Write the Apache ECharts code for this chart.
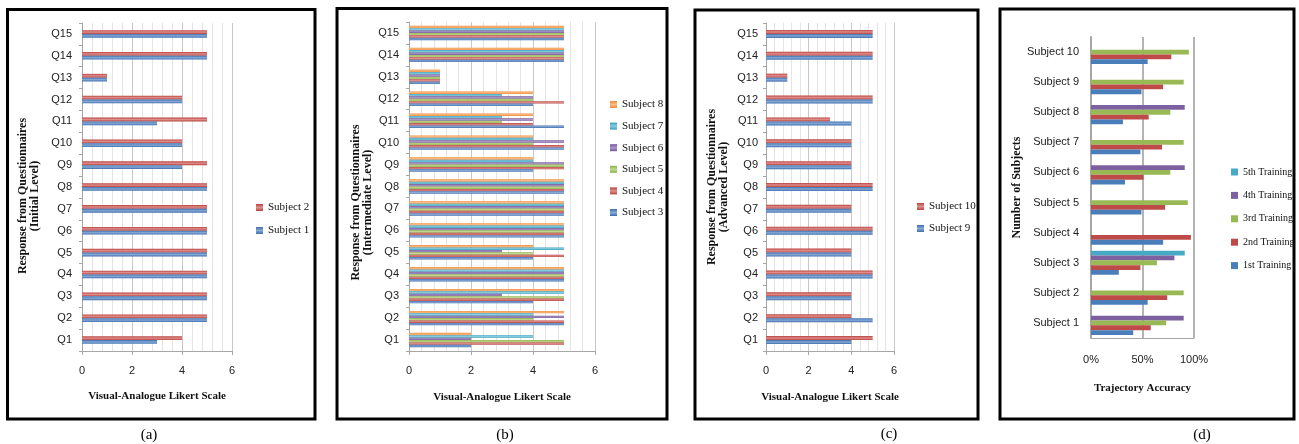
<!DOCTYPE html>
<html lang="en">
<head>
<meta charset="utf-8">
<title>Questionnaire responses and trajectory accuracy</title>
<script src="https://cdn.jsdelivr.net/npm/echarts@6/dist/echarts.min.js"></script>
<style>
  html, body { margin: 0; padding: 0; background: #fff; }
  #main { width: 1299px; height: 444px; }
</style>
</head>
<body>
<div id="main"></div>
<script type="text/javascript">
// categories
var questions = ['Q1', 'Q2', 'Q3', 'Q4', 'Q5', 'Q6', 'Q7', 'Q8', 'Q9', 'Q10', 'Q11', 'Q12', 'Q13', 'Q14', 'Q15'];
var subjects = ['Subject 1', 'Subject 2', 'Subject 3', 'Subject 4', 'Subject 5',
                'Subject 6', 'Subject 7', 'Subject 8', 'Subject 9', 'Subject 10'];

// (a) initial level, Q1..Q15
var subject1 = [3, 5, 5, 5, 5, 5, 5, 5, 4, 4, 3, 4, 1, 5, 5];
var subject2 = [4, 5, 5, 5, 5, 5, 5, 5, 5, 4, 5, 4, 1, 5, 5];

// (b) intermediate level
var subject3 = [2, 5, 4, 5, 4, 5, 5, 5, 4, 5, 5, 4, 1, 5, 5];
var subject4 = [5, 5, 5, 5, 5, 5, 5, 5, 5, 5, 4, 5, 1, 5, 5];
var subject5 = [5, 4, 5, 5, 4, 5, 5, 5, 5, 4, 3, 4, 1, 5, 5];
var subject6 = [2, 5, 3, 5, 3, 5, 5, 5, 5, 5, 4, 4, 1, 5, 5];
var subject7 = [4, 4, 5, 5, 5, 5, 5, 5, 4, 4, 3, 3, 1, 5, 5];
var subject8 = [2, 5, 5, 5, 4, 5, 5, 5, 4, 4, 4, 4, 1, 5, 5];

// (c) advanced level
var subject9  = [4, 5, 4, 5, 4, 5, 4, 5, 4, 4, 4, 5, 1, 5, 5];
var subject10 = [5, 4, 4, 5, 4, 5, 4, 5, 4, 4, 3, 5, 1, 5, 5];

// (d) trajectory accuracy (%), Subject 1..10
var training1 = [41, 55, 27, 70, 49, 33, 48, 31, 49, 55];
var training2 = [58, 74, 48, 97, 72, 51, 69, 56, 70, 78];
var training3 = [73, 90, 64, null, 94, 77, 90, 77, 90, 95];
var training4 = [90, null, 81, null, null, 91, null, 91, null, null];
var training5 = [null, null, 91, null, null, null, null, null, null, null];

var SERIF = '"Liberation Serif", "Times New Roman", serif';
var SANS = '"Liberation Sans Narrow", "Liberation Sans", Arial, sans-serif';

// [edge, highlight, flat]
var colors = {
    blue:   ['#3F6FAE', '#86A9D6', '#4A7EBB'],
    red:    ['#B8433F', '#E08E8B', '#BE4B48'],
    green:  ['#8DAF4A', '#C0D891', '#98B954'],
    purple: ['#72559A', '#AB97C7', '#7D60A0'],
    cyan:   ['#3A9FBC', '#8ACEE0', '#46AAC5'],
    orange: ['#F08A35', '#F9BC88', '#F79646']
};

function shaded(c) {
    return new echarts.graphic.LinearGradient(0, 0, 0, 1, [
        { offset: 0, color: c[0] },
        { offset: 0.5, color: c[1] },
        { offset: 1, color: c[0] }
    ]);
}

function bar(name, data, c, idx, w, flat) {
    return {
        name: name,
        type: 'bar',
        xAxisIndex: idx,
        yAxisIndex: idx,
        data: data,
        barWidth: w,
        barGap: '0%',
        itemStyle: { color: flat ? c[2] : shaded(c) }
    };
}

function likertAxis(idx, gap) {
    return {
        type: 'value', gridIndex: idx, min: 0, max: 6, interval: 2,
        axisLine: { show: true, lineStyle: { color: '#a6a6a6' } },
        axisTick: { show: true, length: 4, lineStyle: { color: '#a6a6a6' } },
        axisLabel: { margin: 14, fontFamily: SANS, fontSize: 11, color: '#222' },
        splitLine: { show: true, lineStyle: { color: '#c8c8c8' } },
        minorTick: { show: false, splitNumber: 5 },
        minorSplitLine: { show: true, lineStyle: { color: '#e4e4e4' } },
        name: 'Visual-Analogue Likert Scale', nameLocation: 'middle', nameGap: gap,
        nameTextStyle: { fontFamily: SERIF, fontWeight: 'bold', fontSize: 11, color: '#111' }
    };
}

// shift moves the rotated title down the page (padding on the text's right side)
function questionAxis(idx, title, gap, margin, shift) {
    return {
        type: 'category', gridIndex: idx, data: questions,
        axisLine: { show: true, lineStyle: { color: '#a6a6a6' } },
        axisTick: { show: true, length: 3, lineStyle: { color: '#a6a6a6' } },
        axisLabel: { margin: margin, fontFamily: SANS, fontSize: 11, color: '#222' },
        name: title, nameLocation: 'middle', nameRotate: 90, nameGap: gap,
        nameTextStyle: {
            fontFamily: SERIF, fontWeight: 'bold', fontSize: 12, color: '#111', lineHeight: 12,
            padding: [0, shift * 2, 0, 0]
        }
    };
}

function legendAt(left, top, gap, names, size) {
    return {
        orient: 'vertical', left: left, top: top, itemGap: gap,
        itemWidth: 7, itemHeight: 7, icon: 'rect', data: names,
        textStyle: { fontFamily: SERIF, fontSize: size, color: '#111' }
    };
}

var myChart = echarts.init(document.getElementById('main'));

var option = {
    animation: false,
    backgroundColor: '#fff',
    grid: [
        { left: 82, top: 23, width: 150, height: 328 },
        { left: 409, top: 22, width: 186, height: 329 },
        { left: 766, top: 23, width: 128, height: 328 },
        { left: 1091, top: 37, width: 103, height: 301 }
    ],
    xAxis: [
        likertAxis(0, 40),
        likertAxis(1, 41),
        likertAxis(2, 41),
        {
            type: 'value', gridIndex: 3, min: 0, max: 100, interval: 50,
            axisLine: { show: true, lineStyle: { color: '#a6a6a6' } },
            axisTick: { show: false },
            axisLabel: { margin: 16, fontFamily: SANS, fontSize: 11, color: '#222', formatter: '{value}%' },
            splitLine: { show: true, lineStyle: { color: '#b4b4b4', width: 2 } },
            name: 'Trajectory Accuracy', nameLocation: 'middle', nameGap: 45,
            nameTextStyle: { fontFamily: SERIF, fontWeight: 'bold', fontSize: 11, color: '#111' }
        }
    ],
    yAxis: [
        questionAxis(0, 'Response from Questionnaires\n(Initial Level)', 41, 10, 9),
        questionAxis(1, 'Response from Questionnaires\n(Intermediate Level)', 33, 10, 16),
        questionAxis(2, 'Response from Questionnaires\n(Advanced Level)', 36, 8, 0),
        {
            type: 'category', gridIndex: 3, data: subjects,
            axisLine: { show: true, lineStyle: { color: '#a6a6a6', width: 2 } },
            axisTick: { show: false },
            axisLabel: { margin: 12, fontFamily: SANS, fontSize: 11, color: '#222' },
            name: 'Number of Subjects', nameLocation: 'middle', nameRotate: 90, nameGap: 65,
            nameTextStyle: { fontFamily: SERIF, fontWeight: 'bold', fontSize: 12, color: '#111' }
        }
    ],
    legend: [
        legendAt(251, 197, 12, ['Subject 2', 'Subject 1'], 11),
        legendAt(605, 94, 10.6, ['Subject 8', 'Subject 7', 'Subject 6', 'Subject 5', 'Subject 4', 'Subject 3'], 11),
        legendAt(912, 196, 11, ['Subject 10', 'Subject 9'], 11),
        legendAt(1226, 162, 13.4, ['5th Training', '4th Training', '3rd Training', '2nd Training', '1st Training'], 10)
    ],
    // horizontal bars put their first series on top, so each panel is listed top-down
    series: [
        bar('Subject 2', subject2, colors.red, 0, 3.8),
        bar('Subject 1', subject1, colors.blue, 0, 3.8),

        bar('Subject 8', subject8, colors.orange, 1, 2.4),
        bar('Subject 7', subject7, colors.cyan, 1, 2.4),
        bar('Subject 6', subject6, colors.purple, 1, 2.4),
        bar('Subject 5', subject5, colors.green, 1, 2.4),
        bar('Subject 4', subject4, colors.red, 1, 2.4),
        bar('Subject 3', subject3, colors.blue, 1, 2.4),

        bar('Subject 10', subject10, colors.red, 2, 4),
        bar('Subject 9', subject9, colors.blue, 2, 4),

        bar('5th Training', training5, colors.cyan, 3, 4.8, true),
        bar('4th Training', training4, colors.purple, 3, 4.8, true),
        bar('3rd Training', training3, colors.green, 3, 4.8, true),
        bar('2nd Training', training2, colors.red, 3, 4.8, true),
        bar('1st Training', training1, colors.blue, 3, 4.8, true)
    ],
    graphic: [
        // panel frames
        { type: 'rect', silent: true, shape: { x: 7.5, y: 9.5, width: 307.5, height: 409.5 }, style: { fill: 'none', stroke: '#000', lineWidth: 3 } },
        { type: 'rect', silent: true, shape: { x: 337, y: 8.5, width: 330, height: 410.5 }, style: { fill: 'none', stroke: '#000', lineWidth: 3 } },
        { type: 'rect', silent: true, shape: { x: 695, y: 10, width: 283, height: 409 }, style: { fill: 'none', stroke: '#000', lineWidth: 3 } },
        { type: 'rect', silent: true, shape: { x: 1000, y: 9, width: 294, height: 410 }, style: { fill: 'none', stroke: '#000', lineWidth: 3 } },
        // panel captions
        { type: 'text', silent: true, x: 149, y: 435, style: { text: '(a)', fontFamily: SERIF, fontSize: 15, fill: '#000', align: 'center', verticalAlign: 'middle' } },
        { type: 'text', silent: true, x: 505, y: 435, style: { text: '(b)', fontFamily: SERIF, fontSize: 15, fill: '#000', align: 'center', verticalAlign: 'middle' } },
        { type: 'text', silent: true, x: 889, y: 434, style: { text: '(c)', fontFamily: SERIF, fontSize: 15, fill: '#000', align: 'center', verticalAlign: 'middle' } },
        { type: 'text', silent: true, x: 1202, y: 435, style: { text: '(d)', fontFamily: SERIF, fontSize: 15, fill: '#000', align: 'center', verticalAlign: 'middle' } }
    ]
};

myChart.setOption(option);
</script>
</body>
</html>
